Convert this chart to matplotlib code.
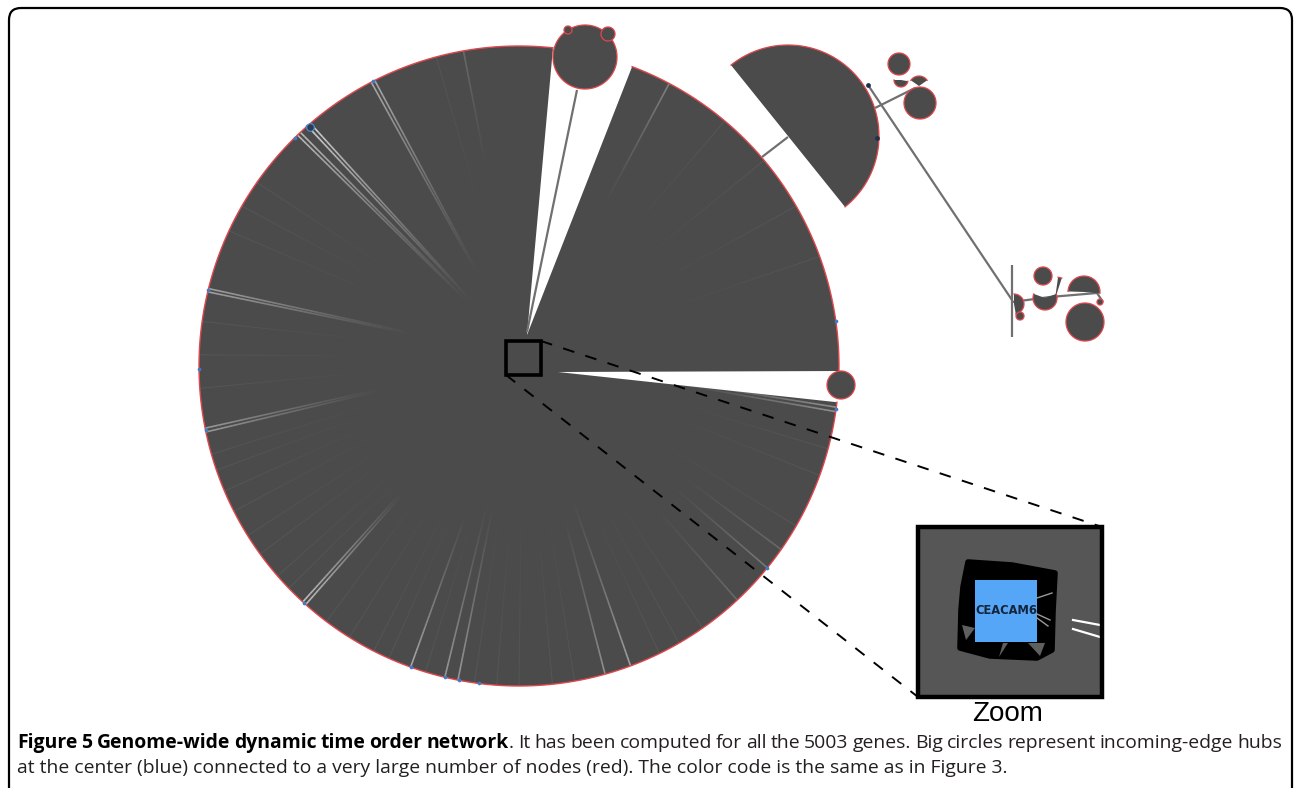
import numpy as np
import matplotlib
matplotlib.use("Agg")
import matplotlib.pyplot as plt
from matplotlib.patches import Polygon, FancyBboxPatch, Rectangle
from matplotlib.collections import LineCollection

# canvas in pixel units (y grows downward)
W, H = 1295, 788

# main hub disk: centre, radius and the two empty sectors (degrees, y up)
disk_center = (519, 366)
disk_radius = 320
hub_pos = (523, 357)
gap_top = (69.3, 83.9)
gap_top_apex = (527, 335)
gap_right = (-6.5, -0.9)
gap_right_apex = (558, 372)

# edges fanning into the central hub: rim angle, brightness at rim, fade start
edge_deg = [62.0, 116.8, 117.5, 130.7, 131.4, 133.1, 133.8, 166.0, 166.6,
            191.2, 191.9, 227.5, 228.2, 250.2, 256.6, 259.0, 285.6, 290.4,
            320.9, 351.8, 352.6, 313.0, 325.0, 100.0]
edge_alpha = [0.35, 0.6, 0.6, 0.85, 0.85, 0.7, 0.7, 0.55, 0.55,
              0.5, 0.5, 0.75, 0.75, 0.6, 0.5, 0.5, 0.45, 0.55,
              0.3, 0.45, 0.45, 0.2, 0.2, 0.2]
edge_reach = [0.55, 0.3, 0.3, 0.25, 0.25, 0.25, 0.25, 0.35, 0.35,
              0.45, 0.45, 0.55, 0.55, 0.5, 0.45, 0.45, 0.5, 0.45,
              0.6, 0.5, 0.5, 0.6, 0.6, 0.6]
faint_deg = [20, 30, 40, 50, 105, 145, 150, 155, 172, 178, 184, 196, 199,
             203, 207, 212, 216, 221, 224, 233, 238, 243, 246, 253, 262,
             266, 270, 276, 280, 296, 300, 305, 330, 340, 345]

# blue target nodes sitting on the rim
rim_node_deg = [131.4, 117.2, 134.5, 166.3, 180.5, 191.6, 227.9, 250.2,
                256.7, 259.2, 262.8, 320.9, 352.3, 8.0]

# secondary hubs drawn as full circles: x, y, radius
hub_x = [585, 608, 568, 841, 899, 920, 1043, 1085, 1020, 1100]
hub_y = [57, 34, 30, 385, 64, 103, 276, 322, 316, 302]
hub_r = [32, 7, 4, 14, 11, 16, 9, 19, 4, 3]

# hubs drawn as sectors: x, y, radius, start and end angle
sector_x = [788, 901, 919, 1045, 1084, 1014, 1055]
sector_y = [136, 80, 86, 298, 292, 304, 299]
sector_r = [91, 7, 10, 12, 16, 10, 22]
sector_a0 = [-51.2, 180, 35, 160, -5, -80, 72]
sector_a1 = [128.8, 350, 145, 380, 178, 90, 82]

# connecting edges between hubs
link_x0 = [577, 762, 868, 875, 1012, 1012, 1050, 1097]
link_y0 = [90, 157, 85, 108, 265, 302, 297, 293]
link_x1 = [527, 788, 1012, 915, 1012, 1050, 1097, 1103]
link_y1 = [332, 137, 300, 88, 337, 297, 293, 302]

zoom_box = (506, 341, 541, 375)
inset_box = (918, 527, 1102, 697)

caption_bold = "Figure 5 Genome-wide dynamic time order network"
caption_rest = ("It has been computed for all the 5003 genes. "
                "Big circles represent incoming-edge hubs")
caption_line2 = ("at the center (blue) connected to a very large number of "
                 "nodes (red). The color code is the same as in Figure 3.")

GRAY = "#4b4b4b"
RED = "#e0474c"
BLUE = "#3d7cc9"


def arc(cx, cy, r, a0, a1, n=240):
    t = np.radians(np.linspace(a0, a1, n))
    return np.column_stack([cx + r * np.cos(t), cy - r * np.sin(t)])


def rim(a, r_scale=1.0):
    cx, cy = disk_center
    return arc(cx, cy, disk_radius * r_scale, a, a, 1)[0]


def fading_edges(ax, origin, ends, alphas, reaches, color, lw):
    segs, cols = [], []
    base = np.array(matplotlib.colors.to_rgb(color))
    origin = np.asarray(origin, float)
    for end, a, f in zip(ends, alphas, reaches):
        end = np.asarray(end, float)
        ts = np.linspace(f, 1.0, 40)
        for t0, t1 in zip(ts[:-1], ts[1:]):
            p0 = origin + t0 * (end - origin)
            p1 = origin + t1 * (end - origin)
            segs.append([p0, p1])
            k = (t1 - f) / (1 - f)
            cols.append((*base, a * k ** 1.3))
    ax.add_collection(LineCollection(segs, colors=cols, linewidths=lw,
                                     capstyle="butt", zorder=3))


fig = plt.figure(figsize=(W / 100, H / 100), dpi=100)
ax = fig.add_axes([0, 0, 1, 1])
ax.set_xlim(0, W)
ax.set_ylim(H, 0)
ax.axis("off")

# page frame
ax.add_patch(FancyBboxPatch((9, 8), 1283, 820, boxstyle="round,pad=0,rounding_size=12",
                            fc="none", ec="black", lw=1.6, zorder=1))

# main disk with its two empty sectors
cx, cy = disk_center
left_arc = arc(cx, cy, disk_radius, gap_top[1], 360 + gap_right[0])
right_arc = arc(cx, cy, disk_radius, 360 + gap_right[1], 360 + gap_top[0])
outline = np.vstack([[gap_top_apex], left_arc, [gap_right_apex], right_arc])
ax.add_patch(Polygon(outline, closed=True, fc=GRAY, ec="none", zorder=2))
for part in (left_arc, right_arc):
    ax.plot(part[:, 0], part[:, 1], color=RED, lw=1.0, zorder=4)

# faint and bright edges running into the central hub
fading_edges(ax, hub_pos, [rim(a) for a in faint_deg], [0.09] * len(faint_deg),
             [0.4] * len(faint_deg), "#cfcfcf", 0.7)
fading_edges(ax, hub_pos, [rim(a) for a in edge_deg], edge_alpha, edge_reach,
             "#e6e6e6", 1.2)

# sector-shaped hubs
for x, y, r, a0, a1 in zip(sector_x, sector_y, sector_r, sector_a0, sector_a1):
    pts = np.vstack([[(x, y)], arc(x, y, r, a0, a1)])
    ax.add_patch(Polygon(pts, closed=True, fc=GRAY, ec="none", zorder=5))
    a = arc(x, y, r, a0, a1)
    ax.plot(a[:, 0], a[:, 1], color=RED, lw=0.9, zorder=6)

# bright edges inside the big half disk and the top hub
fading_edges(ax, (800, 137), [(877, 136), (877, 140)], [0.9, 0.9], [0.3, 0.3],
             "#f0f0f0", 1.2)
fading_edges(ax, (790, 140), [(855, 83), (848, 182)], [0.35, 0.3], [0.4, 0.4],
             "#d0d0d0", 0.9)

# connecting edges
for x0, y0, x1, y1 in zip(link_x0, link_y0, link_x1, link_y1):
    ax.plot([x0, x1], [y0, y1], color="#707070", lw=1.6, zorder=4,
            solid_capstyle="butt")

# circular hubs
for x, y, r in zip(hub_x, hub_y, hub_r):
    c = arc(x, y, r, 0, 360)
    ax.add_patch(Polygon(c, closed=True, fc=GRAY, ec=RED, lw=0.9, zorder=7))
fading_edges(ax, (582, 62), [(552, 48), (556, 55), (606, 38), (600, 34)],
             [0.45, 0.35, 0.5, 0.5], [0.1, 0.1, 0.1, 0.1], "#d8d8d8", 0.9)

# blue rim nodes
rim_pts = np.array([rim(a) for a in rim_node_deg])
ax.scatter(rim_pts[:, 0], rim_pts[:, 1], s=7, color=BLUE, zorder=8, lw=0)
ax.scatter([310], [127], s=30, color="#2f3c4c", ec="#4a8fe0", lw=0.8, zorder=9)
ax.scatter([868, 877], [85, 138], s=12, color="#203048", zorder=9, lw=0)

# zoom marker around the central hub and guide lines
bx0, by0, bx1, by1 = zoom_box
ix0, iy0, ix1, iy1 = inset_box
ax.plot([bx1, ix1], [by0, iy0], color="black", lw=1.4, ls=(0, (6, 6)), zorder=10)
ax.plot([bx0, ix0], [by1, iy1], color="black", lw=1.4, ls=(0, (6, 6)), zorder=10)
ax.add_patch(Rectangle((bx0, by0), bx1 - bx0, by1 - by0, fc="none", ec="black",
                       lw=2.6, zorder=11))

# magnified view of the hub
ax.add_patch(Rectangle((ix0, iy0), ix1 - ix0, iy1 - iy0, fc="#565656", ec="none",
                       zorder=12))
blob = [(968, 562), (1012, 565), (1055, 573), (1053, 612), (1052, 650),
        (1037, 658), (990, 656), (960, 648), (961, 610), (963, 587)]
ax.add_patch(Polygon(blob, closed=True, fc="black", ec="black", lw=4,
                     joinstyle="round", zorder=13))
for tri in ([(962, 625), (975, 628), (966, 640)],
            [(1003, 643), (1008, 643), (999, 657)],
            [(1028, 643), (1045, 643), (1040, 656)]):
    ax.add_patch(Polygon(tri, closed=True, fc="#5f5f5f", ec="none", zorder=14))
ax.add_patch(Rectangle((975, 580), 62, 62, fc="#55a6f7", ec="none", zorder=15))
ax.text(1006, 610, "CEACAM6", ha="center", va="center", fontsize=8.3,
        fontweight="bold", color="#14243a", zorder=16)
for (x0, y0, x1, y1) in [(1073, 620, 1100, 625), (1073, 629, 1100, 637)]:
    ax.plot([x0, x1], [y0, y1], color="white", lw=1.6, zorder=16)
for (x0, y0, x1, y1) in [(1037, 598, 1052, 593), (1037, 614, 1050, 620),
                         (1037, 618, 1048, 626)]:
    ax.plot([x0, x1], [y0, y1], color="#9a9a9a", lw=1.0, zorder=16)
ax.add_patch(Rectangle((ix0, iy0), ix1 - ix0, iy1 - iy0, fc="none", ec="black",
                       lw=3.2, zorder=17))
ax.text((ix0 + ix1) / 2 - 2, 721, "Zoom", ha="center", va="baseline",
        fontsize=20, family="Liberation Sans", color="black")

# caption: first line justified, second line ragged
renderer = fig.canvas.get_renderer()
cap_font = "Open Sans"


def width_of(s, size, weight="normal"):
    t = ax.text(0, 0, s, fontsize=size, fontweight=weight, family=cap_font)
    w = t.get_window_extent(renderer).width
    t.remove()
    return w


cap_size = 12 * 986 / width_of(caption_line2, 12)
tokens = [[(w, "bold")] for w in caption_bold.split()]
tokens[-1].append((".", "normal"))
tokens += [[(w, "normal")] for w in caption_rest.split()]
tok_w = [sum(width_of(s, cap_size, wt) for s, wt in tok) for tok in tokens]
gap = (1282 - 17 - sum(tok_w)) / (len(tokens) - 1)
x = 17
for tok, tw in zip(tokens, tok_w):
    xx = x
    for s, wt in tok:
        ax.text(xx, 748, s, fontsize=cap_size, fontweight=wt, family=cap_font,
                color="black" if wt == "bold" else "#231f20", va="baseline")
        xx += width_of(s, cap_size, wt)
    x += tw + gap
ax.text(17, 773, caption_line2, fontsize=cap_size, family=cap_font,
        color="#231f20", va="baseline")

fig.savefig("out.png", dpi=100)
